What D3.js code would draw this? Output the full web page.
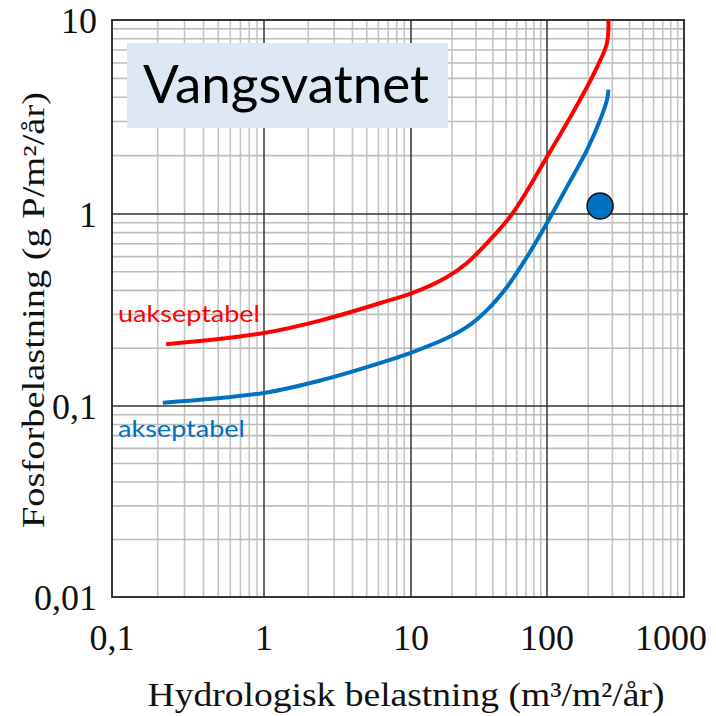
<!DOCTYPE html>
<html>
<head>
<meta charset="utf-8">
<script src="https://cdn.jsdelivr.net/npm/d3@7"></script>
<style>
  html, body { margin: 0; padding: 0; background: #ffffff; }
  svg { display: block; }
  .serif { font-family: "Liberation Serif", "Times New Roman", Times, serif; }
  .sans { font-family: Lato, "Open Sans", sans-serif; }
</style>
</head>
<body>
<svg id="chart" width="716" height="716"></svg>
<script>
// ---- data ----
const xTickValues = [0.1, 1, 10, 100, 1000];
const xTickLabels = ["0,1", "1", "10", "100", "1000"];
const yTickValues = [0.01, 0.1, 1, 10];
const yTickLabels = ["0,01", "0,1", "1", "10"];

const redX = [0.227, 1, 2.52, 7.19, 10.3, 18.4, 25.8, 36.2, 55.4, 100, 174, 232, 274, 281];
const redY = [0.21, 0.24, 0.281, 0.356, 0.388, 0.47, 0.556, 0.706, 1.0, 1.97, 3.87, 5.72, 7.6, 10];

const blueX = [0.216, 1, 2.52, 7.19, 10.3, 18.4, 25.8, 36.2, 50.8, 71.2, 100, 140, 196, 244, 274, 281];
const blueY = [0.104, 0.117, 0.137, 0.174, 0.191, 0.226, 0.258, 0.316, 0.417, 0.597, 0.898, 1.38, 2.14, 3.05, 3.87, 4.38];

const pointX = [244];
const pointY = [1.1];

const seriesLabels = ["uakseptabel", "akseptabel"];
const title = "Vangsvatnet";
const xTitle = "Hydrologisk belastning (m³/m²/år)";
const yTitle = "Fosforbelastning (g P/m²/år)";

// ---- scales ----
const x = d3.scaleLog().domain([0.1, 1, 10, 100, 1000]).range([112, 264, 411, 547, 684]);
const y = d3.scaleLog().domain([0.01, 0.1, 1, 10]).range([597, 406, 214, 20]);

const svg = d3.select("#chart");
const pLeft = x(0.1), pRight = x(1000), pTop = y(10), pBottom = y(0.01);

// minor grid values
const minorX = [];
for (let d = 0.1; d < 1000 - 1e-9; d *= 10) for (let k = 2; k <= 9; k++) minorX.push(d * k);
const minorY = [];
for (let d = 0.01; d < 10 - 1e-9; d *= 10) for (let k = 2; k <= 9; k++) minorY.push(d * k);

const grid = svg.append("g");
grid.selectAll(".mx").data(minorX).enter().append("line")
  .attr("x1", d => x(d)).attr("x2", d => x(d)).attr("y1", pTop).attr("y2", pBottom)
  .attr("stroke", "#c4c4c4").attr("stroke-width", 1.6);
grid.selectAll(".my").data(minorY).enter().append("line")
  .attr("y1", d => y(d)).attr("y2", d => y(d)).attr("x1", pLeft).attr("x2", pRight)
  .attr("stroke", "#bdbdbd").attr("stroke-width", 1.6);
grid.selectAll(".Mx").data(xTickValues.slice(1, -1)).enter().append("line")
  .attr("x1", d => x(d)).attr("x2", d => x(d)).attr("y1", pTop).attr("y2", pBottom)
  .attr("stroke", "#333").attr("stroke-width", 1.5);
grid.selectAll(".My").data(yTickValues.slice(1, -1)).enter().append("line")
  .attr("y1", d => y(d)).attr("y2", d => y(d)).attr("x1", pLeft).attr("x2", d => d === 1 ? pRight + 4 : pRight)
  .attr("stroke", "#333").attr("stroke-width", 1.5);

svg.append("rect").attr("x", pLeft).attr("y", pTop).attr("width", pRight - pLeft).attr("height", pBottom - pTop)
  .attr("fill", "none").attr("stroke", "#222").attr("stroke-width", 1.8);

// title box
svg.append("rect").attr("x", 127).attr("y", 43).attr("width", 321).attr("height", 85).attr("fill", "#dde8f4");
svg.append("text").attr("class", "sans").attr("x", 143).attr("y", 103).text(title)
  .attr("font-size", 52)
  .attr("textLength", 286).attr("lengthAdjust", "spacingAndGlyphs").attr("fill", "#000");

// curves
const line = d3.line().x(d => x(d[0])).y(d => y(d[1])).curve(d3.curveCatmullRom.alpha(0.5));
svg.append("path").datum(redX.map((v, i) => [v, redY[i]])).attr("d", line)
  .attr("fill", "none").attr("stroke", "#ff0000").attr("stroke-width", 4);
svg.append("path").datum(blueX.map((v, i) => [v, blueY[i]])).attr("d", line)
  .attr("fill", "none").attr("stroke", "#0070c0").attr("stroke-width", 4);

// point
svg.selectAll(".pt").data(pointX).enter().append("circle")
  .attr("cx", d => x(d)).attr("cy", (d, i) => y(pointY[i])).attr("r", 13)
  .attr("fill", "#0070c0").attr("stroke", "#111").attr("stroke-width", 1.5);

// series labels
svg.append("text").attr("class", "sans").attr("x", 118).attr("y", 322).text(seriesLabels[0])
  .attr("font-size", 24)
  .attr("textLength", 142).attr("lengthAdjust", "spacingAndGlyphs").attr("fill", "#ff0000");
svg.append("text").attr("class", "sans").attr("x", 118).attr("y", 437).text(seriesLabels[1])
  .attr("font-size", 24)
  .attr("textLength", 127).attr("lengthAdjust", "spacingAndGlyphs").attr("fill", "#0070c0");

// axes tick labels
svg.selectAll(".xl").data(xTickValues).enter().append("text").attr("class", "serif")
  .attr("x", d => x(d) - (d === 1000 ? 13 : 0)).attr("y", 650)
  .attr("text-anchor", "middle").attr("font-size", 36)
  .attr("fill", "#111").text((d, i) => xTickLabels[i]);
svg.selectAll(".yl").data(yTickValues).enter().append("text").attr("class", "serif")
  .attr("x", 97).attr("y", d => y(d)).attr("dy", "0.35em")
  .attr("text-anchor", "end").attr("font-size", 36)
  .attr("fill", "#111").text((d, i) => yTickLabels[i]);

// axis titles
svg.append("text").attr("class", "serif").attr("x", 406).attr("y", 706).attr("text-anchor", "middle")
  .attr("font-size", 33).attr("fill", "#111")
  .attr("textLength", 517).attr("lengthAdjust", "spacingAndGlyphs").text(xTitle);
svg.append("text").attr("class", "serif").attr("transform", "translate(44,310) rotate(-90)").attr("text-anchor", "middle")
  .attr("font-size", 31).attr("fill", "#111")
  .attr("textLength", 436).attr("lengthAdjust", "spacingAndGlyphs").text(yTitle);
</script>
</body>
</html>
